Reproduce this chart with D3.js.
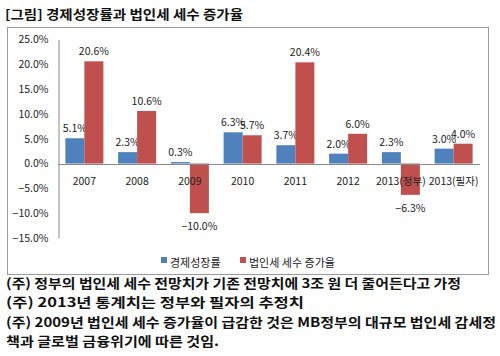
<!DOCTYPE html>
<html><head><meta charset="utf-8">
<script src="https://cdn.jsdelivr.net/npm/d3@7"></script>
<style>body{margin:0;background:#fff;}svg{display:block;}</style>
</head><body>
<script>
const categories = ["2007","2008","2009","2010","2011","2012","2013(정부)","2013(필자)"];
const growth = [5.1,2.3,0.3,6.3,3.7,2.0,2.3,3.0];
const taxGrowth = [20.6,10.6,-10.0,5.7,20.4,6.0,-6.3,4.0];
const seriesNames = ["경제성장률","법인세 세수 증가율"];
const yTicks = [25,20,15,10,5,0,-5,-10,-15];
const title = "[그림] 경제성장률과 법인세 세수 증가율";
const notes = [
  "(주) 정부의 법인세 세수 전망치가 기존 전망치에 3조 원 더 줄어든다고 가정",
  "(주) 2013년 통계치는 정부와 필자의 추정치",
  "(주) 2009년 법인세 세수 증가율이 급감한 것은 MB정부의 대규모 법인세 감세정",
  "책과 글로벌 금융위기에 따른 것임."
];
const colors = ["#4F81BD","#C0504D"];
const font = "'Noto Sans CJK KR', 'Noto Sans', sans-serif";

const svg = d3.select("body").append("svg").attr("width",500).attr("height",356);

svg.append("text").attr("x",5).attr("y",19).attr("font-family",font).attr("font-weight","bold")
  .attr("font-size",13).attr("fill","#111").attr("textLength",238).attr("lengthAdjust","spacingAndGlyphs").text(title);

svg.append("rect").attr("x",7.5).attr("y",27.5).attr("width",481).attr("height",247)
  .attr("fill","#fff").attr("stroke","#9a9a9a").attr("stroke-width",1);

const x = d3.scaleBand().domain(categories).range([58,480]);
const y = d3.scaleLinear().domain([-15,25]).range([238,39.5]);
const xs = d3.scaleBand().domain([0,1]).range([0,38]);
const off = (x.bandwidth()-38)/2;

// y axis labels
const ya = d3.axisLeft(y).tickValues(yTicks).tickSize(0).tickFormat(d=>d3.format(".1f")(d)+"%");
const gy = svg.append("g").attr("transform","translate(58.5,0)").call(ya);
gy.select(".domain").attr("stroke","#888");
gy.selectAll("text").attr("font-family",font).attr("font-size",10.5).attr("fill","#222").attr("x",-10);

const series = [growth, taxGrowth];
series.forEach((vals,si)=>{
  const g = svg.append("g");
  g.selectAll("rect").data(vals).join("rect")
    .attr("x",(d,i)=>x(categories[i])+off+xs(si))
    .attr("width",xs.bandwidth())
    .attr("y",d=>y(Math.max(0,d)))
    .attr("height",d=>Math.abs(y(d)-y(0)))
    .attr("fill",colors[si]);
  g.selectAll("text").data(vals).join("text")
    .attr("x",(d,i)=>x(categories[i])+off+xs(si)+xs.bandwidth()/2)
    .attr("y",d=> d>=0 ? y(d)-6 : y(d)+17)
    .attr("text-anchor","middle").attr("font-family",font).attr("font-size",10.5).attr("fill","#222")
    .text(d=>d3.format(".1f")(d)+"%");
});

// zero line
svg.append("line").attr("x1",58).attr("x2",480).attr("y1",Math.round(y(0))+0.5).attr("y2",Math.round(y(0))+0.5)
  .attr("stroke","#888");

// category labels
svg.append("g").selectAll("text").data(categories).join("text")
  .attr("x",d=>x(d)+x.bandwidth()/2).attr("y",185)
  .attr("text-anchor","middle").attr("font-family",font).attr("font-size",10.5).attr("fill","#222")
  .text(d=>d);

// legend
const lg = [{x:161},{x:240}];
seriesNames.forEach((n,i)=>{
  svg.append("rect").attr("x",lg[i].x).attr("y",257).attr("width",6).attr("height",6).attr("fill",colors[i]);
  svg.append("text").attr("x",lg[i].x+9).attr("y",267).attr("font-family",font).attr("font-size",11).attr("fill","#222").text(n);
});

// notes
const noteY = [288,307,327,346];
const noteW = [455,298,490,213];
notes.forEach((t,i)=>{
  svg.append("text").attr("x",6).attr("y",noteY[i]).attr("font-family",font).attr("font-weight","bold")
    .attr("font-size",13).attr("fill","#111").attr("textLength",noteW[i]).attr("lengthAdjust","spacingAndGlyphs").text(t);
});
</script>
</body></html>
